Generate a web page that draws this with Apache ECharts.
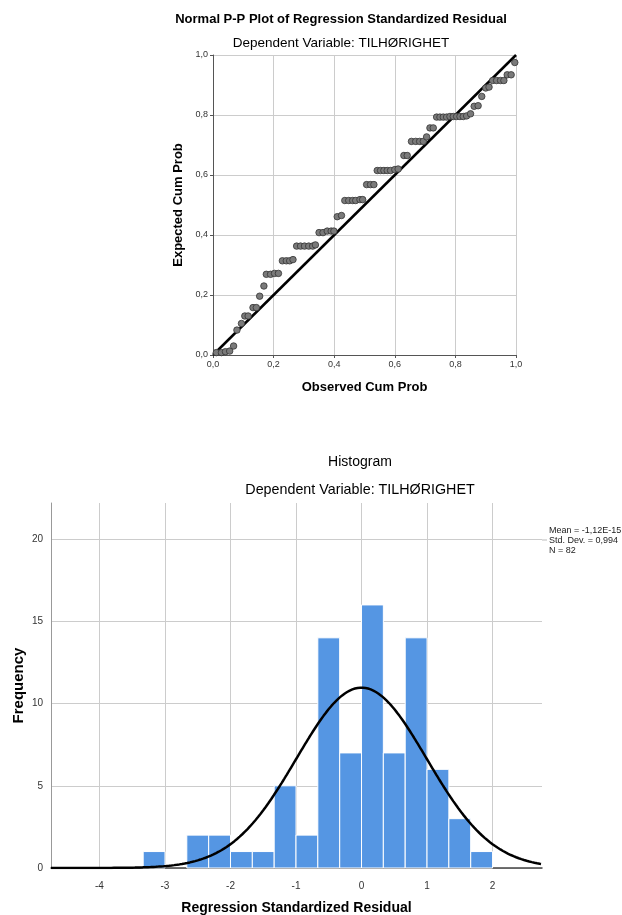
<!DOCTYPE html>
<html>
<head>
<meta charset="utf-8">
<script src="https://cdn.jsdelivr.net/npm/echarts@6/dist/echarts.min.js"></script>
<style>
html,body{margin:0;padding:0;background:#fff;}
#chart{width:622px;height:915px;}
</style>
</head>
<body>
<div id="chart"></div>
<script>
// ---- P-P plot data ----
const ppObserved = [0.011,0.028,0.041,0.055,0.068,0.079,0.094,0.105,0.116,0.132,0.143,0.154,0.168,0.176,0.190,0.203,0.216,0.229,0.242,0.253,0.264,0.276,0.289,0.302,0.316,0.329,0.338,0.350,0.363,0.377,0.390,0.399,0.410,0.424,0.435,0.448,0.461,0.471,0.485,0.494,0.507,0.520,0.531,0.542,0.553,0.564,0.575,0.586,0.600,0.611,0.630,0.641,0.655,0.669,0.682,0.694,0.705,0.716,0.727,0.738,0.749,0.760,0.771,0.782,0.793,0.804,0.815,0.826,0.837,0.850,0.862,0.875,0.887,0.900,0.911,0.923,0.936,0.949,0.960,0.971,0.984,0.996];
const ppExpected = [0.008,0.008,0.011,0.013,0.030,0.083,0.105,0.130,0.130,0.158,0.158,0.196,0.230,0.269,0.269,0.272,0.272,0.314,0.314,0.314,0.318,0.363,0.363,0.363,0.363,0.363,0.367,0.408,0.408,0.413,0.413,0.413,0.461,0.465,0.515,0.515,0.515,0.515,0.518,0.518,0.568,0.568,0.568,0.615,0.615,0.615,0.615,0.615,0.618,0.620,0.665,0.665,0.712,0.712,0.712,0.712,0.727,0.757,0.757,0.793,0.793,0.793,0.793,0.795,0.795,0.795,0.795,0.795,0.797,0.804,0.829,0.831,0.862,0.890,0.893,0.915,0.915,0.915,0.915,0.934,0.934,0.975];
const ppTicks = [0, 0.2, 0.4, 0.6, 0.8, 1.0];

// ---- Histogram data ----
const binStarts = [-3.333,-2.667,-2.333,-2.0,-1.667,-1.333,-1.0,-0.667,-0.333,0.0,0.333,0.667,1.0,1.333,1.667];
const binCounts = [1,2,2,1,1,5,2,14,7,16,7,14,6,3,1];
const binWidth = 1/3;
const histXTicks = [-4,-3,-2,-1,0,1,2];
const histYTicks = [0,5,10,15,20];
const statMean = -1.12e-15;
const statSD = 0.994;
const statN = 82;
const statLabels = ['Mean = -1,12E-15', 'Std. Dev. = 0,994', 'N = 82'];

const xMin = -4.74, xMax = 2.755, yMax = 22.2;

// Normal density curve implied by the stated mean / SD / N
const curve = [];
for (let x = xMin; x <= xMax + 1e-9; x += 0.02) {
  const z = (x - statMean) / statSD;
  curve.push([x, statN * binWidth * Math.exp(-0.5 * z * z) / (statSD * Math.sqrt(2 * Math.PI))]);
}

const FONT = '"Liberation Sans", Arial, sans-serif';
const commaFmt = v => v.toFixed(1).replace('.', ',');

const chart = echarts.init(document.getElementById('chart'), null, {renderer: 'canvas'});

const option = {
  backgroundColor: '#fff',
  animation: false,
  textStyle: {fontFamily: FONT},
  title: [
    {text: 'Normal P-P Plot of Regression Standardized Residual', left: 336, top: 8, textAlign: 'center',
     textStyle: {fontSize: 13, fontWeight: 'bold', color: '#000', fontFamily: FONT}},
    {text: 'Dependent Variable: TILHØRIGHET', left: 336, top: 31, textAlign: 'center',
     textStyle: {fontSize: 13.5, fontWeight: 'normal', color: '#000', fontFamily: FONT}},
    {text: 'Histogram', left: 355, top: 450, textAlign: 'center',
     textStyle: {fontSize: 14, fontWeight: 'normal', color: '#000', fontFamily: FONT}},
    {text: 'Dependent Variable: TILHØRIGHET', left: 355, top: 478, textAlign: 'center',
     textStyle: {fontSize: 14.3, fontWeight: 'normal', color: '#000', fontFamily: FONT}}
  ],
  grid: [
    {left: 213, top: 55, width: 303, height: 300, containLabel: false, outerBoundsMode: 'none'},
    {left: 51, top: 503, width: 491, height: 365, containLabel: false, outerBoundsMode: 'none'}
  ],
  xAxis: [
    {gridIndex: 0, type: 'value', min: 0, max: 1, interval: 0.2,
     name: 'Observed Cum Prob', nameLocation: 'middle', nameGap: 26, nameMoveOverlap: false,
     nameTextStyle: {fontSize: 13, fontWeight: 'bold', color: '#000'},
     axisLine: {show: true, onZero: false, lineStyle: {color: '#555', width: 1}},
     axisTick: {show: true, length: 3, lineStyle: {color: '#555'}},
     axisLabel: {fontSize: 9, color: '#333', margin: 5, formatter: commaFmt},
     splitLine: {show: true, lineStyle: {color: '#ccc', width: 1}}},
    {gridIndex: 1, type: 'value', min: xMin, max: xMax,
     name: 'Regression Standardized Residual', nameLocation: 'middle', nameGap: 33, nameMoveOverlap: false,
     nameTextStyle: {fontSize: 14, fontWeight: 'bold', color: '#000'},
     axisLine: {show: true, onZero: false, lineStyle: {color: '#444', width: 1.5}},
     axisTick: {show: false, customValues: histXTicks},
     axisLabel: {fontSize: 10, color: '#333', margin: 13, customValues: histXTicks, formatter: v => String(v)},
     splitLine: {show: true, lineStyle: {color: '#ccc', width: 1}}}
  ],
  yAxis: [
    {gridIndex: 0, type: 'value', min: 0, max: 1, interval: 0.2,
     name: 'Expected Cum Prob', nameLocation: 'middle', nameGap: 28, nameMoveOverlap: false,
     nameTextStyle: {fontSize: 13, fontWeight: 'bold', color: '#000'},
     axisLine: {show: true, onZero: false, lineStyle: {color: '#555', width: 1}},
     axisTick: {show: true, length: 3, lineStyle: {color: '#555'}},
     axisLabel: {fontSize: 9, color: '#333', margin: 5, formatter: commaFmt},
     splitLine: {show: true, lineStyle: {color: '#ccc', width: 1}}},
    {gridIndex: 1, type: 'value', min: 0, max: yMax,
     name: 'Frequency', nameLocation: 'middle', nameGap: 25, nameMoveOverlap: false,
     nameTextStyle: {fontSize: 15, fontWeight: 'bold', color: '#000'},
     axisLine: {show: true, onZero: false, lineStyle: {color: '#999', width: 1}},
     axisTick: {show: false, customValues: histYTicks},
     axisLabel: {fontSize: 10, color: '#333', margin: 8, customValues: histYTicks, formatter: v => String(v)},
     splitLine: {show: true, lineStyle: {color: '#ccc', width: 1}}}
  ],
  series: [
    {type: 'line', xAxisIndex: 0, yAxisIndex: 0, data: [[0, 0], [1, 1]],
     showSymbol: false, lineStyle: {color: '#000', width: 2.5}, z: 3, silent: true},
    {type: 'scatter', xAxisIndex: 0, yAxisIndex: 0,
     data: ppObserved.map((x, i) => [x, ppExpected[i]]),
     symbol: 'circle', symbolSize: 6.5,
     itemStyle: {color: '#7a7a7a', borderColor: '#333', borderWidth: 0.8, opacity: 1}, z: 4},
    {type: 'custom', xAxisIndex: 1, yAxisIndex: 1,
     data: binStarts.map((s, i) => [s, s + binWidth, binCounts[i]]),
     renderItem: function (params, api) {
       const p0 = api.coord([api.value(0), api.value(2)]);
       const p1 = api.coord([api.value(1), 0]);
       return {type: 'rect', shape: {x: p0[0], y: p0[1], width: p1[0] - p0[0], height: p1[1] - p0[1]},
               style: {fill: '#5596e3', stroke: '#fff', lineWidth: 1}};
     }, z: 2},
    {type: 'line', xAxisIndex: 1, yAxisIndex: 1, data: curve, showSymbol: false, smooth: false,
     lineStyle: {color: '#000', width: 2.5}, z: 5, silent: true}
  ],
  graphic: [
    {type: 'line', shape: {x1: 542, y1: 540, x2: 547, y2: 540}, style: {stroke: '#bbb', lineWidth: 1}},
    {type: 'text', left: 549, top: 526, style: {text: statLabels.join('\n'), font: '9px ' + FONT, fill: '#222', lineHeight: 10}}
  ]
};
chart.setOption(option);
</script>
</body>
</html>
